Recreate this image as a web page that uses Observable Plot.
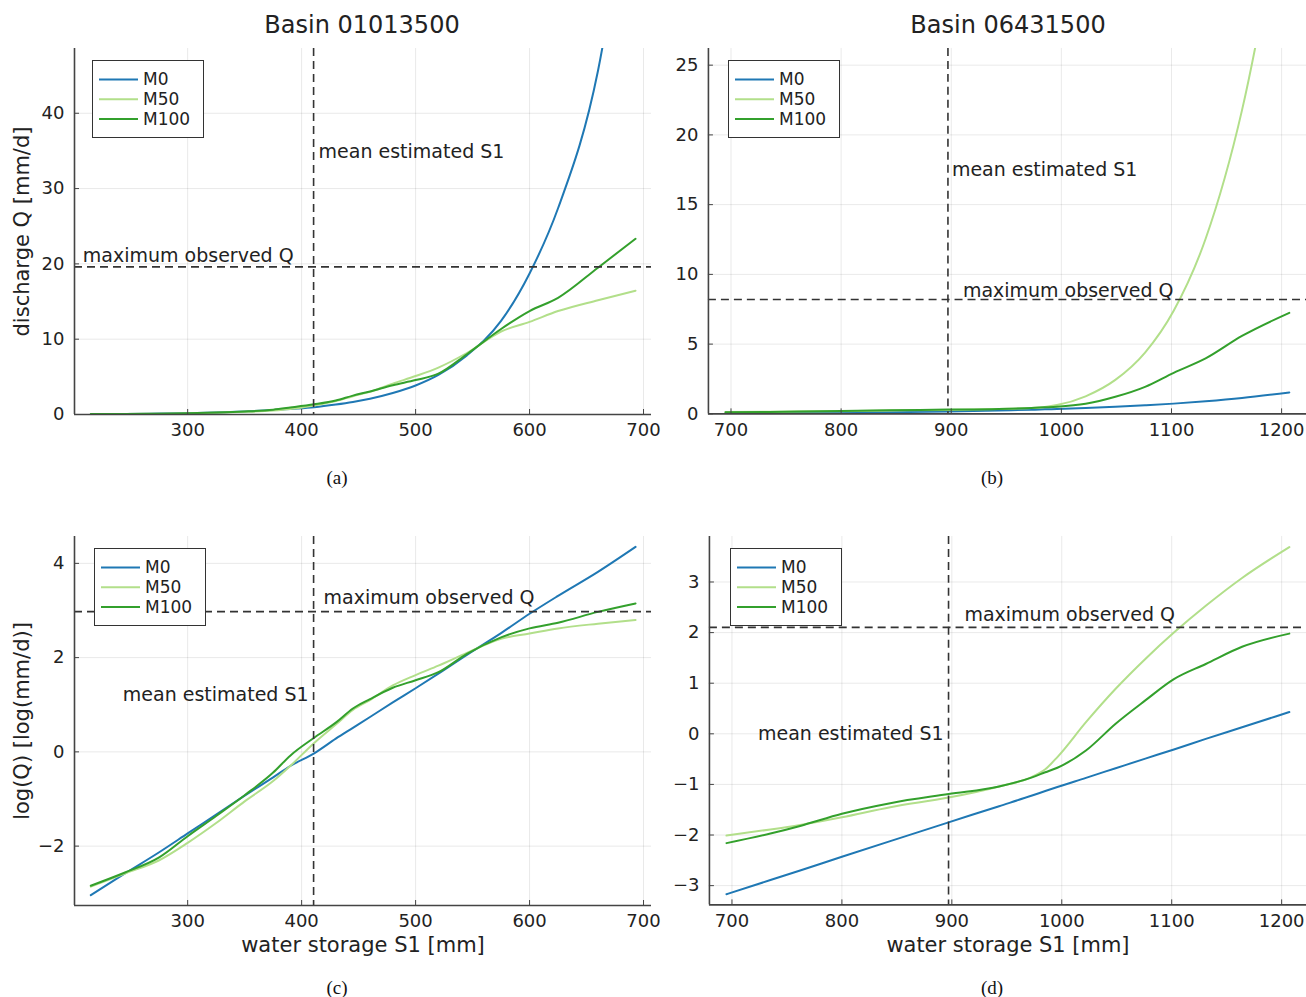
<!DOCTYPE html>
<html><head><meta charset="utf-8">
<script src="https://cdn.jsdelivr.net/npm/d3@7"></script>
<script src="https://cdn.jsdelivr.net/npm/@observablehq/plot@0.6"></script>
<style>
body{margin:0;background:#fff;overflow:hidden}
#root{position:relative;width:1306px;height:997px;overflow:hidden;font-family:"DejaVu Sans",sans-serif;color:#222;background:#fff}
.panel{position:absolute}
.title{position:absolute;font-size:24px;transform:translate(-50%,-50%);white-space:nowrap;color:#222}
.cap{position:absolute;font-family:"Liberation Serif","Times New Roman",serif;font-size:19px;transform:translate(-50%,-50%);color:#111}
.legend{position:absolute;border:1.3px solid #333;background:#fff;box-sizing:border-box}
</style></head><body><div id="root"></div>
<script>
// ---------- data ----------
const seriesNames = ["M0", "M50", "M100"];
const seriesColors = ["#1f78b4", "#b2df8a", "#33a02c"];

// Basin 01013500 : water storage S1 [mm] and log(Q) per model
const sA = [215, 245, 275, 300, 325, 350, 375, 390, 411, 430, 445, 460, 480, 500, 520, 545, 575, 600, 625, 660, 693];
const logM0A = [-3.04, -2.58, -2.13, -1.73, -1.33, -0.93, -0.54, -0.30, -0.03, 0.28, 0.51, 0.74, 1.05, 1.35, 1.66, 2.06, 2.52, 2.93, 3.31, 3.82, 4.35];
const logM50A = [-2.86, -2.58, -2.30, -1.93, -1.51, -1.05, -0.62, -0.30, 0.19, 0.58, 0.89, 1.10, 1.41, 1.63, 1.83, 2.10, 2.40, 2.51, 2.62, 2.72, 2.80];
const logM100A = [-2.84, -2.56, -2.24, -1.79, -1.36, -0.92, -0.44, -0.08, 0.30, 0.62, 0.92, 1.12, 1.36, 1.52, 1.69, 2.08, 2.43, 2.62, 2.74, 2.97, 3.15];
const meanS1A = 410.5;
const maxQA = 19.6;

// Basin 06431500
const sB = [695, 735, 762, 800, 844, 897, 943, 973, 985, 996, 1022, 1049, 1076, 1102, 1131, 1164, 1207];
const logM0B = [-3.17, -2.89, -2.70, -2.43, -2.12, -1.75, -1.43, -1.22, -1.13, -1.05, -0.87, -0.68, -0.49, -0.31, -0.10, 0.13, 0.43];
const logM50B = [-2.01, -1.89, -1.80, -1.65, -1.45, -1.26, -1.04, -0.85, -0.70, -0.46, 0.23, 0.89, 1.48, 2.00, 2.53, 3.08, 3.69];
const logM100B = [-2.16, -1.97, -1.82, -1.58, -1.37, -1.19, -1.04, -0.86, -0.76, -0.67, -0.33, 0.20, 0.66, 1.08, 1.38, 1.72, 1.98];
const meanS1B = 897;
const maxQB = 8.2;

// axis ticks and labels
const xTicksA = [300, 400, 500, 600, 700];
const xTicksB = [700, 800, 900, 1000, 1100, 1200];
const yTicksQA = [0, 10, 20, 30, 40];
const yTicksQB = [0, 5, 10, 15, 20, 25];
const yTicksLogA = [-2, 0, 2, 4];
const yTicksLogB = [-3, -2, -1, 0, 1, 2, 3];
const titles = ["Basin 01013500", "Basin 06431500"];
const captions = ["(a)", "(b)", "(c)", "(d)"];
const yLabelQ = "discharge Q [mm/d]";
const yLabelLog = "log(Q) [log(mm/d)]";
const xLabel = "water storage S1 [mm]";
const txtMean = "mean estimated S1";
const txtMax = "maximum observed Q";

// ---------- helpers ----------
function rowsFrom(s, series, transform) {
  const rows = [];
  series.forEach((vals, k) => {
    vals.forEach((v, i) => rows.push({S: s[i], v: transform(v), model: seriesNames[k]}));
  });
  return rows;
}
const ident = v => v;
const fmt = d3.format("d");

const root = document.getElementById("root");

function panel(cfg) {
  const marks = [
    Plot.gridX({ticks: cfg.xTicks, stroke: "#000", strokeOpacity: 0.09}),
    Plot.gridY({ticks: cfg.yTicks, stroke: "#000", strokeOpacity: 0.09}),
    Plot.line(cfg.rows, {x: "S", y: "v", z: "model", stroke: "model", strokeWidth: 2, curve: "monotone-x", clip: true}),
    Plot.ruleX([cfg.refX], {stroke: "#333", strokeWidth: 1.6, strokeDasharray: "8,5"}),
    Plot.ruleY([cfg.refY], {stroke: "#333", strokeWidth: 1.6, strokeDasharray: "8,5"}),
    Plot.ruleX([cfg.xDomain[0]], {stroke: "#444", strokeWidth: 1.6}),
    Plot.ruleY([cfg.yDomain[0]], {stroke: "#444", strokeWidth: 1.6}),
    Plot.axisX({ticks: cfg.xTicks, tickSize: -5, fill: "none", stroke: "#444"}),
    Plot.axisY({ticks: cfg.yTicks, tickSize: -5, fill: "none", stroke: "#444"}),
    Plot.axisX({ticks: cfg.xTicks, tickSize: 0, tickPadding: 9, fontSize: 18, label: null, fill: "#222", tickFormat: fmt}),
    Plot.axisY({ticks: cfg.yTicks, tickSize: 0, tickPadding: 10, fontSize: 18, label: null, fill: "#222", tickFormat: fmt})
  ];
  for (const n of cfg.notes) {
    marks.push(Plot.text([n], {x: "x", y: "y", text: "t", dx: n.dx, dy: n.dy, textAnchor: n.anchor, lineAnchor: "middle", fontSize: 19, fill: "#222"}));
  }
  if (cfg.yLabel) marks.push(Plot.text([cfg.yLabel], {text: d => d, frameAnchor: "left", dx: -52, rotate: -90, textAnchor: "middle", lineAnchor: "middle", fontSize: 21, fill: "#222"}));
  if (cfg.xLabel) marks.push(Plot.text([cfg.xLabel], {text: d => d, frameAnchor: "bottom", dy: 40, textAnchor: "middle", lineAnchor: "middle", fontSize: 21, fill: "#222"}));

  const svg = Plot.plot({
    width: cfg.width, height: cfg.height,
    marginLeft: cfg.ml, marginRight: cfg.mr, marginTop: cfg.mt, marginBottom: cfg.mb,
    x: {domain: cfg.xDomain},
    y: {domain: cfg.yDomain},
    color: {domain: seriesNames, range: seriesColors},
    style: {fontFamily: "DejaVu Sans", fontSize: "18px", color: "#222", background: "transparent", overflow: "visible"},
    marks
  });
  const wrap = document.createElement("div");
  wrap.className = "panel";
  wrap.style.left = cfg.left + "px";
  wrap.style.top = cfg.top + "px";
  wrap.appendChild(svg);
  root.appendChild(wrap);

  // legend
  const lg = document.createElement("div");
  lg.className = "legend";
  lg.style.left = cfg.legend[0] + "px";
  lg.style.top = cfg.legend[1] + "px";
  lg.style.width = "112px";
  lg.style.height = "78px";
  const ns = "http://www.w3.org/2000/svg";
  const ls = document.createElementNS(ns, "svg");
  ls.setAttribute("width", 110); ls.setAttribute("height", 76);
  ls.style.position = "absolute"; ls.style.left = "0"; ls.style.top = "0";
  seriesNames.forEach((name, i) => {
    const y = 18.5 + i * 19.7;
    const l = document.createElementNS(ns, "line");
    l.setAttribute("x1", 6); l.setAttribute("x2", 45); l.setAttribute("y1", y); l.setAttribute("y2", y);
    l.setAttribute("stroke", seriesColors[i]); l.setAttribute("stroke-width", 2);
    ls.appendChild(l);
    const t = document.createElementNS(ns, "text");
    t.setAttribute("x", 50); t.setAttribute("y", y); t.setAttribute("dy", "0.35em");
    t.setAttribute("font-size", 17); t.setAttribute("font-family", "DejaVu Sans"); t.setAttribute("fill", "#222");
    t.textContent = name;
    ls.appendChild(t);
  });
  lg.appendChild(ls);
  root.appendChild(lg);
}

function addText(cls, text, x, y) {
  const d = document.createElement("div");
  d.className = cls; d.textContent = text;
  d.style.left = x + "px"; d.style.top = y + "px";
  root.appendChild(d);
}

const xDomA = [200.7, 707];
const xDomB = [679.5, 1222.6];

// (a)
panel({
  left: 0, top: 0, width: 660, height: 460, ml: 74, mr: 9, mt: 48, mb: 46,
  xDomain: xDomA, yDomain: [0, 48.6], xTicks: xTicksA, yTicks: yTicksQA,
  rows: rowsFrom(sA, [logM0A, logM50A, logM100A], Math.exp),
  refX: meanS1A, refY: maxQA,
  notes: [
    {x: meanS1A, y: 34.9, t: txtMean, dx: 5, dy: 0, anchor: "start"},
    {x: 208, y: maxQA, t: txtMax, dx: 0, dy: -11, anchor: "start"}
  ],
  yLabel: yLabelQ, legend: [92, 60]
});
// (b)
panel({
  left: 660, top: 0, width: 647, height: 460, ml: 48, mr: 0, mt: 48, mb: 46,
  xDomain: xDomB, yDomain: [0, 26.2], xTicks: xTicksB, yTicks: yTicksQB,
  rows: rowsFrom(sB, [logM0B, logM50B, logM100B], Math.exp),
  refX: meanS1B, refY: maxQB,
  notes: [
    {x: meanS1B, y: 17.5, t: txtMean, dx: 4, dy: 0, anchor: "start"},
    {x: meanS1B, y: maxQB, t: txtMax, dx: 15, dy: -9, anchor: "start"}
  ],
  legend: [728, 60]
});
// (c)
panel({
  left: 0, top: 500, width: 660, height: 460, ml: 74, mr: 9, mt: 36, mb: 55,
  xDomain: xDomA, yDomain: [-3.26, 4.57], xTicks: xTicksA, yTicks: yTicksLogA,
  rows: rowsFrom(sA, [logM0A, logM50A, logM100A], ident),
  refX: meanS1A, refY: Math.log(maxQA),
  notes: [
    {x: meanS1A, y: Math.log(maxQA), t: txtMax, dx: 10, dy: -14, anchor: "start"},
    {x: meanS1A, y: 1.21, t: txtMean, dx: -5, dy: 0, anchor: "end"}
  ],
  yLabel: yLabelLog, xLabel: xLabel, legend: [94, 548]
});
// (d)
panel({
  left: 660, top: 500, width: 647, height: 460, ml: 49, mr: 0, mt: 36, mb: 55,
  xDomain: xDomB, yDomain: [-3.38, 3.90], xTicks: xTicksB, yTicks: yTicksLogB,
  rows: rowsFrom(sB, [logM0B, logM50B, logM100B], ident),
  refX: meanS1B, refY: Math.log(maxQB),
  notes: [
    {x: meanS1B, y: Math.log(maxQB), t: txtMax, dx: 16, dy: -12, anchor: "start"},
    {x: meanS1B, y: 0, t: txtMean, dx: -5, dy: 0, anchor: "end"}
  ],
  xLabel: xLabel, legend: [730, 548]
});

addText("title", titles[0], 362, 25);
addText("title", titles[1], 1008, 25);
addText("cap", captions[0], 337, 478);
addText("cap", captions[1], 992, 478);
addText("cap", captions[2], 337, 988);
addText("cap", captions[3], 992, 988);
</script>
</body></html>
